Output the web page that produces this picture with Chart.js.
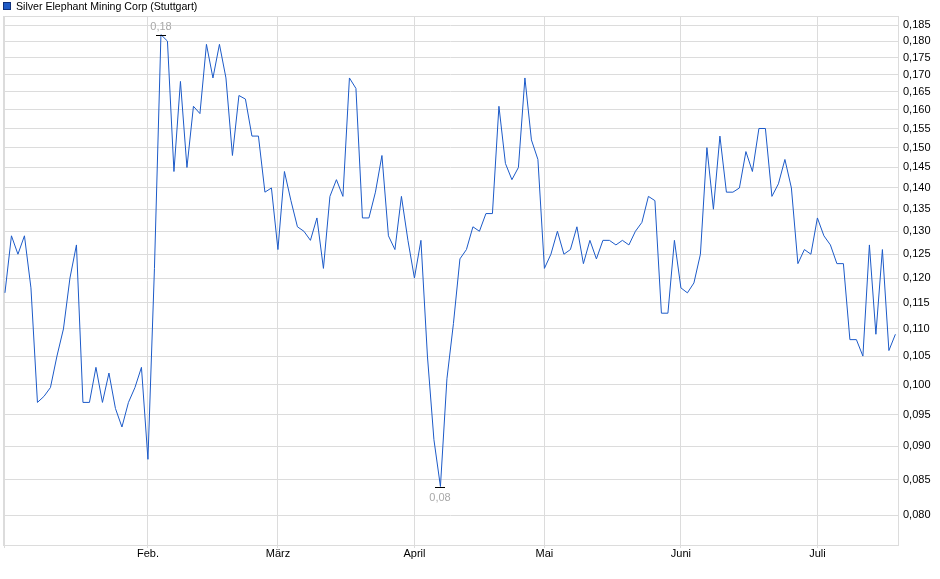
<!DOCTYPE html>
<html lang="de">
<head>
<meta charset="UTF-8">
<title>Silver Elephant Mining Corp (Stuttgart)</title>
<script src="https://cdn.jsdelivr.net/npm/chart.js"></script>
<style>
    html, body { margin: 0; padding: 0; background: #fff; }
    body { font-family: 'Liberation Sans', Arial, sans-serif; }
    .wrap { position: relative; width: 940px; height: 579px; }
    .legend { position: absolute; left: 3px; top: 0px; font-size: 10.6px; line-height: 13px; color: #000; white-space: nowrap; }
    .legend span.box { display: inline-block; width: 6px; height: 6px; background: #1f5bc6; border: 1px solid #0e2f7a; margin-right: 5px; vertical-align: 0px; }
</style>
</head>
<body>
<div class="wrap">
    <canvas id="chart" width="940" height="579"></canvas>
    <div class="legend"><span class="box"></span>Silver Elephant Mining Corp (Stuttgart)</div>
</div>

<script>
// trading days, index 0 = first day shown (January)
const prices = [
    0.117, 0.129, 0.125, 0.129, 0.118, 0.097, 0.098, 0.0995, 0.105, 0.110, 0.120, 0.127,
    0.097, 0.097, 0.103, 0.097, 0.102, 0.096, 0.093, 0.097, 0.0995, 0.103, 0.088,
    0.122, 0.182, 0.180, 0.144, 0.168, 0.145, 0.161, 0.159, 0.179, 0.169, 0.179, 0.169,
    0.148, 0.164, 0.163, 0.153, 0.153, 0.139, 0.140, 0.126,
    0.144, 0.137, 0.131, 0.130, 0.128, 0.133, 0.122, 0.138, 0.142, 0.138, 0.169, 0.166,
    0.133, 0.133, 0.139, 0.148, 0.129, 0.126, 0.138, 0.128, 0.120,
    0.128, 0.105, 0.091, 0.084, 0.101, 0.111, 0.124, 0.126, 0.131, 0.130, 0.134, 0.134,
    0.161, 0.146, 0.142, 0.145, 0.169, 0.152, 0.147,
    0.122, 0.125, 0.130, 0.125, 0.126, 0.131, 0.123, 0.128, 0.124, 0.128, 0.128, 0.127,
    0.128, 0.127, 0.130, 0.132, 0.138, 0.137, 0.113, 0.113,
    0.128, 0.118, 0.117, 0.119, 0.125, 0.150, 0.135, 0.153, 0.139, 0.139, 0.140, 0.149,
    0.144, 0.155, 0.155, 0.138, 0.141, 0.147, 0.140, 0.123,
    0.126, 0.125, 0.133, 0.129, 0.127, 0.123, 0.123, 0.108, 0.108, 0.105, 0.127, 0.109,
    0.126, 0.106, 0.109
];
const monthNames = ['Feb.', 'März', 'April', 'Mai', 'Juni', 'Juli'];
const monthStart = [22, 42, 63, 83, 104, 125];
const yTicks = [0.080, 0.085, 0.090, 0.095, 0.100, 0.105, 0.110, 0.115, 0.120, 0.125,
    0.130, 0.135, 0.140, 0.145, 0.150, 0.155, 0.160, 0.165, 0.170, 0.175, 0.180, 0.185];

const points = prices.map((v, i) => ({ x: i, y: v }));
const gridColor = '#dcdcdc';

// frame round the plot area
const framePlugin = {
    id: 'frame',
    beforeDatasetsDraw(chart) {
        const a = chart.chartArea, ctx = chart.ctx;
        ctx.save();
        ctx.strokeStyle = gridColor;
        ctx.lineWidth = 1;
        ctx.strokeRect(Math.round(a.left) + 0.5, Math.round(a.top) + 0.5,
            Math.round(a.right - a.left), Math.round(a.bottom - a.top));
        ctx.restore();
    }
};

// high / low markers with value text
const extremesPlugin = {
    id: 'extremes',
    afterDatasetsDraw(chart) {
        const ctx = chart.ctx, xs = chart.scales.x, ys = chart.scales.y;
        let hi = 0, lo = 0;
        prices.forEach((v, i) => {
            if (v > prices[hi]) hi = i;
            if (v < prices[lo]) lo = i;
        });
        ctx.save();
        ctx.font = "11px 'Liberation Sans', Arial, sans-serif";
        ctx.textAlign = 'center';
        [[hi, -1], [lo, 1]].forEach(([i, dir]) => {
            const px = Math.round(xs.getPixelForValue(i));
            const py = Math.round(ys.getPixelForValue(prices[i])) + 0.5;
            ctx.strokeStyle = '#000';
            ctx.lineWidth = 1;
            ctx.beginPath();
            ctx.moveTo(px - 5, py);
            ctx.lineTo(px + 5, py);
            ctx.stroke();
            ctx.fillStyle = '#a8a8a8';
            ctx.textBaseline = 'middle';
            ctx.fillText(prices[i].toFixed(2).replace('.', ','), px, py + (dir < 0 ? -9 : 10));
        });
        ctx.restore();
    }
};

Chart.defaults.font.family = "'Liberation Sans', Arial, sans-serif";
Chart.defaults.font.size = 11;
Chart.defaults.color = '#000';

new Chart(document.getElementById('chart').getContext('2d'), {
    type: 'line',
    data: {
        datasets: [{
            label: 'Silver Elephant Mining Corp (Stuttgart)',
            data: points,
            borderColor: '#1c5ac8',
            borderWidth: 1,
            pointRadius: 0,
            tension: 0,
            fill: false
        }]
    },
    options: {
        responsive: false,
        animation: false,
        layout: { padding: { left: 3, top: 16, right: 0, bottom: 0 } },
        plugins: { legend: { display: false }, tooltip: { enabled: false } },
        scales: {
            x: {
                type: 'linear',
                min: -0.3,
                max: 137.4,
                afterBuildTicks: s => { s.ticks = [0].concat(monthStart).map(v => ({ value: v })); },
                afterFit: s => { s.height = 34; },
                ticks: {
                    autoSkip: false,
                    maxRotation: 0,
                    padding: -1,
                    callback: v => {
                        const k = monthStart.indexOf(v);
                        return k >= 0 ? monthNames[k] : '';
                    }
                },
                grid: { color: gridColor, tickLength: 3, drawTicks: true },
                border: { color: gridColor }
            },
            y: {
                type: 'logarithmic',
                position: 'right',
                min: 0.0760,
                max: 0.1879,
                afterBuildTicks: s => { s.ticks = yTicks.map(v => ({ value: v })); },
                afterFit: s => { s.width = 42; },
                ticks: {
                    padding: 5,
                    callback: v => v.toFixed(3).replace('.', ',')
                },
                grid: { color: gridColor, drawTicks: false },
                border: { color: gridColor }
            }
        }
    },
    plugins: [framePlugin, extremesPlugin]
});
</script>
</body>
</html>
